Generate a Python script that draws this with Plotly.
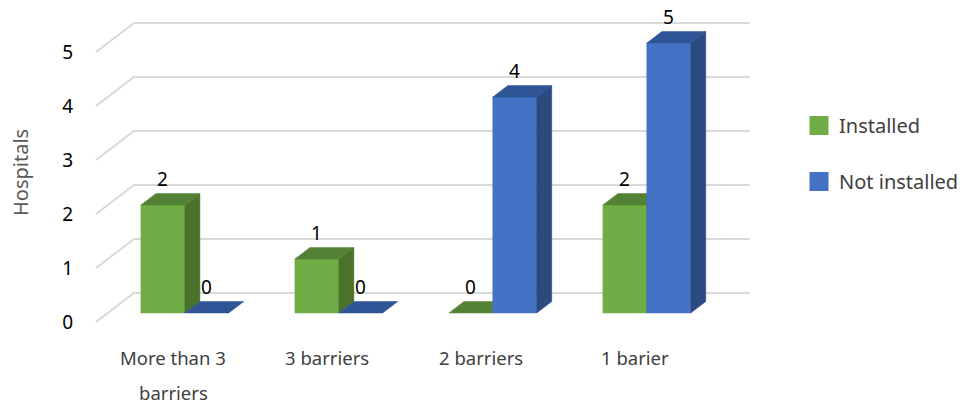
import plotly.graph_objects as go

# ---------------- data ----------------
categories = ["More than 3<br>barriers", "3 barriers", "2 barriers", "1 barier"]
installed = [2, 1, 0, 2]
not_installed = [0, 0, 4, 5]
series_names = ["Installed", "Not installed"]
y_ticks = [0, 1, 2, 3, 4, 5]

# ---------------- style / projection ----------------
FONT = "Noto Sans"
front_col = ["#70AD47", "#4472C4"]
top_col = ["#548235", "#2F5597"]
side_col = ["#4A7229", "#2B4A80"]
GRID = "#D9D9D9"

W, H = 965, 405
PX_X, PX_Y = 154.0, 54.0          # pixels per category / per value unit
DEPTH_X, DEPTH_Y = 38 / PX_X, 29 / PX_Y   # full-depth oblique offset in data units
D_FRONT, D_BACK = 0.31, 0.707     # bar front / back depth fraction
BAR_W = 0.285

ml, mr, mt, mb = 92, 211, 20, 80
x0 = -0.5 - 4 / PX_X
x1 = x0 + (W - ml - mr) / PX_X
y0 = -(405 - mb - 322) / PX_Y
y1 = y0 + (H - mt - mb) / PX_Y

fig = go.Figure()

# gridlines: left wall diagonal + back wall
n_cat = len(categories)
for v in y_ticks:
    fig.add_trace(go.Scatter(
        x=[-0.5, -0.5 + DEPTH_X, n_cat - 0.5 + DEPTH_X],
        y=[v, v + DEPTH_Y, v + DEPTH_Y],
        mode="lines", line=dict(color=GRID, width=2),
        hoverinfo="skip", showlegend=False))


def poly(xs, ys, color):
    fig.add_trace(go.Scatter(
        x=xs + [xs[0]], y=ys + [ys[0]], mode="lines", fill="toself",
        fillcolor=color, line=dict(color=color, width=0.5),
        hoverinfo="skip", showlegend=False))


sx = DEPTH_X * (D_BACK - D_FRONT)
sy = DEPTH_Y * (D_BACK - D_FRONT)
base = DEPTH_Y * D_FRONT
labels = []
for i in range(n_cat):
    for s, vals in enumerate([installed, not_installed]):
        v = vals[i]
        cx = i + DEPTH_X * D_FRONT + (-BAR_W / 2 if s == 0 else BAR_W / 2)
        xa, xb = cx - BAR_W / 2, cx + BAR_W / 2
        top = base + v
        if v > 0:
            poly([xa, xb, xb, xa], [base, base, top, top], front_col[s])
            poly([xb, xb + sx, xb + sx, xb], [base, base + sy, top + sy, top], side_col[s])
        poly([xa, xb, xb + sx, xa + sx], [top, top, top + sy, top + sy], top_col[s])
        labels.append((cx, top, v))

# legend entries
for s, name in enumerate(series_names):
    fig.add_trace(go.Scatter(
        x=[None], y=[None], mode="markers", name=name, legendgroup=name,
        marker=dict(symbol="square", size=16, color=front_col[s],
                    line=dict(color=front_col[s], width=3))))

# data labels
for cx, top, v in labels:
    fig.add_annotation(x=cx, y=top, text=str(v), showarrow=False,
                       yshift=26, yanchor="middle",
                       font=dict(family=FONT, size=19, color="#000000"))

# category labels (two-line wrapped)
for i, lab in enumerate(categories):
    for k, line in enumerate(lab.split("<br>")):
        fig.add_annotation(x=i, y=0, text=line, showarrow=False,
                           yshift=-35 - 35 * k, yanchor="middle",
                           font=dict(family=FONT, size=18.5, color="#404040"))

# y axis title
fig.add_annotation(xref="paper", yref="y", x=0, xshift=20 - ml, y=(322 - 173) / PX_Y,
                   text="Hospitals", textangle=-90, showarrow=False,
                   xanchor="center", yanchor="middle",
                   font=dict(family=FONT, size=20, color="#595959"))

fig.update_layout(
    width=W, height=H,
    margin=dict(l=ml, r=mr, t=mt, b=mb, autoexpand=False),
    paper_bgcolor="white", plot_bgcolor="white",
    xaxis=dict(range=[x0, x1], showgrid=False, zeroline=False,
               showticklabels=False, showline=False, fixedrange=True),
    yaxis=dict(range=[y0, y1], tickvals=y_ticks, showgrid=False, zeroline=False,
               showline=False, ticks="", ticklabelstandoff=18, fixedrange=True,
               tickfont=dict(family=FONT, size=19, color="#000000")),
    legend=dict(x=(799 - ml) / (W - ml - mr), y=(405 - mb - 106) / (H - mt - mb),
                xanchor="left", yanchor="top", traceorder="grouped",
                tracegroupgap=27,
                font=dict(family=FONT, size=20, color="#404040")),
    showlegend=True,
)

fig.write_html("out.html")
